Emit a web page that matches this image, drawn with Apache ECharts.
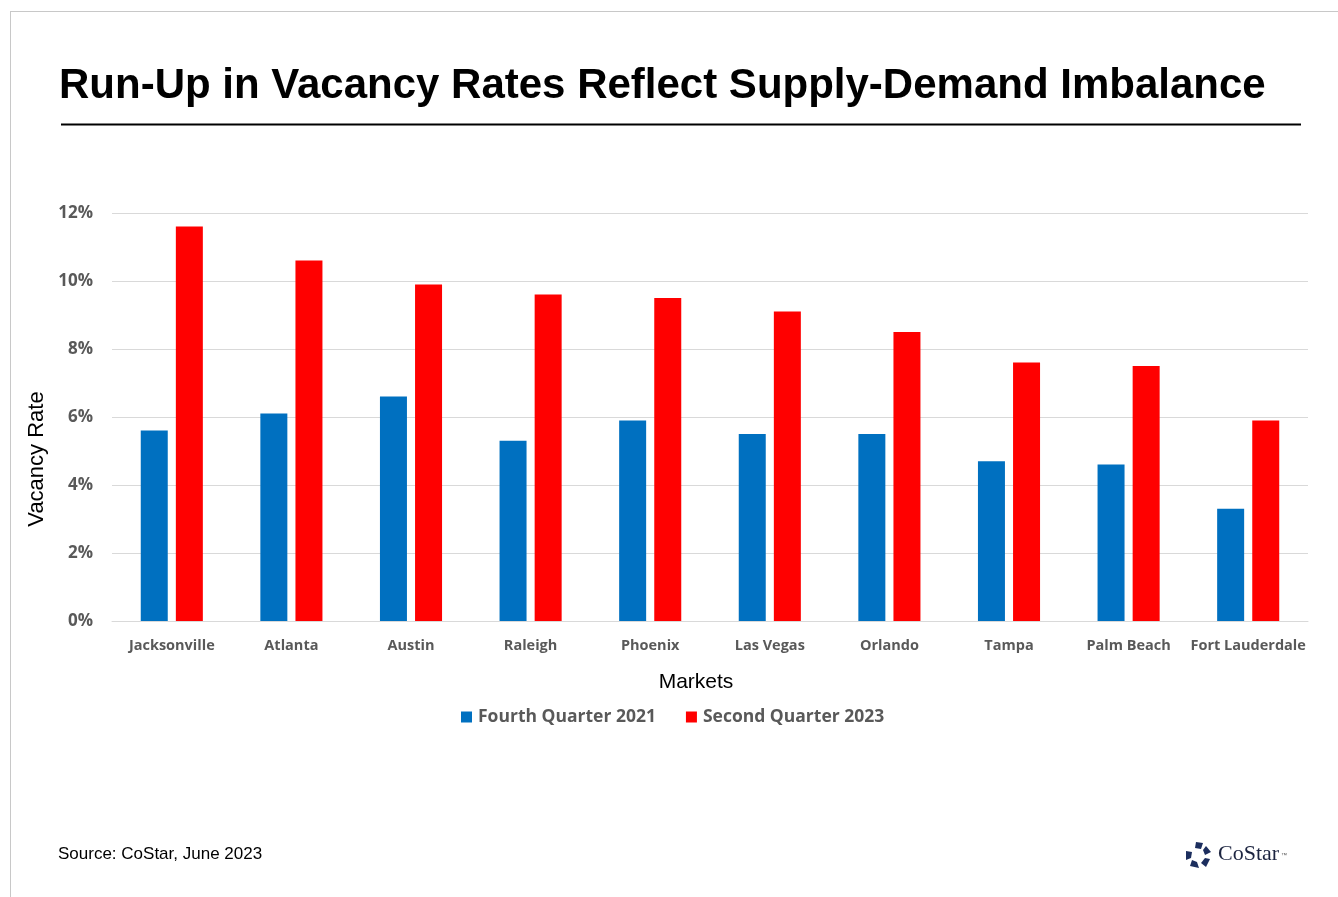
<!DOCTYPE html>
<html><head><meta charset="utf-8">
<script src="https://cdn.jsdelivr.net/npm/echarts@6/dist/echarts.min.js"></script>
<style>html,body{margin:0;padding:0;background:#fff}#c{width:1338px;height:897px}</style>
</head><body><div id="c"></div>
<script>
const markets = ['Jacksonville','Atlanta','Austin','Raleigh','Phoenix','Las Vegas','Orlando','Tampa','Palm Beach','Fort Lauderdale'];
const q4_2021 = [5.6, 6.1, 6.6, 5.3, 5.9, 5.5, 5.5, 4.7, 4.6, 3.3];
const q2_2023 = [11.6, 10.6, 9.9, 9.6, 9.5, 9.1, 8.5, 7.6, 7.5, 5.9];
const seriesNames = ['Fourth Quarter 2021', 'Second Quarter 2023'];
const yTicks = [0, 2, 4, 6, 8, 10, 12];

const chart = echarts.init(document.getElementById('c'), null, {renderer:'canvas'});
const labelFont = '"Open Sans", sans-serif';
const arial = '"Liberation Sans", Arial, sans-serif';
chart.setOption({
  animation: false,
  title: {
    text: 'Run-Up in Vacancy Rates Reflect Supply-Demand Imbalance',
    left: 54, top: 60,
    textStyle: {fontFamily: arial, fontWeight: 'bold', fontSize: 42, color: '#000'}
  },
  grid: {left: 112, right: 30, top: 213, bottom: 276, containLabel: false},
  legend: {
    data: seriesNames, top: 703, left: 456, itemWidth: 11, itemHeight: 11, itemGap: 30,
    icon: 'rect',
    textStyle: {fontFamily: labelFont, fontWeight: 'bold', fontSize: 17.5, color: '#595959', padding: [0,0,0,1]}
  },
  xAxis: {
    type: 'category', data: markets,
    axisLine: {lineStyle: {color: '#d9d9d9'}}, axisTick: {show: false},
    axisLabel: {interval: 0, margin: 17, fontFamily: labelFont, fontWeight: 'bold', fontSize: 14.5, color: '#595959'}
  },
  yAxis: {
    type: 'value', min: 0, max: 12, interval: 2,
    axisLabel: {margin: 19, fontFamily: labelFont, fontWeight: 'bold', fontSize: 17, color: '#595959',
      padding: [3, 0, 0, 0],
      formatter: v => yTicks.includes(v) ? v + '%' : ''},
    splitLine: {lineStyle: {color: '#d9d9d9'}}
  },
  series: [
    {name: seriesNames[0], type: 'bar', data: q4_2021, barWidth: 27, barGap: '30%', itemStyle: {color: '#0070C0'}},
    {name: seriesNames[1], type: 'bar', data: q2_2023, barWidth: 27, itemStyle: {color: '#FF0000'}}
  ],
  graphic: [
    {type: 'line', shape: {x1: 10, y1: 11.5, x2: 1338, y2: 11.5}, style: {stroke: '#c8c8c8', lineWidth: 1}},
    {type: 'line', shape: {x1: 10.5, y1: 11, x2: 10.5, y2: 897}, style: {stroke: '#c8c8c8', lineWidth: 1}},
    {type: 'line', shape: {x1: 61, y1: 124.5, x2: 1301, y2: 124.5}, style: {stroke: '#000', lineWidth: 2}},
    {type: 'text', x: 37, y: 459, rotation: Math.PI / 2, style: {text: 'Vacancy Rate', font: '22px ' + arial, fill: '#000', align: 'center', verticalAlign: 'middle'}},
    {type: 'text', x: 696, y: 682, style: {text: 'Markets', font: '21px ' + arial, fill: '#000', align: 'center', verticalAlign: 'middle'}},
    {type: 'text', left: 58, top: 846, style: {text: 'Source: CoStar, June 2023', font: '17px ' + arial, fill: '#000'}},
    {type: 'group', x: 1198, y: 855, children: [
      {type: 'polygon', shape: {points: [[-2,-13],[5,-12],[3,-6],[-3,-7]]}, style: {fill: '#1c2e5e'}},
      {type: 'polygon', shape: {points: [[8,-9],[13,-3],[7,0],[5,-5]]}, style: {fill: '#1c2e5e'}},
      {type: 'polygon', shape: {points: [[12,4],[8,12],[3,8],[7,3]]}, style: {fill: '#1c2e5e'}},
      {type: 'polygon', shape: {points: [[1,13],[-8,11],[-6,5],[-1,7]]}, style: {fill: '#1c2e5e'}},
      {type: 'polygon', shape: {points: [[-12,5],[-12,-4],[-6,-3],[-7,3]]}, style: {fill: '#1c2e5e'}}
    ]},
    {type: 'text', left: 1218, top: 843, style: {text: 'CoStar', font: '22px "Liberation Serif", "DejaVu Serif", serif', fill: '#1c2440'}},
    {type: 'text', left: 1281, top: 852, style: {text: '™', font: '6px ' + arial, fill: '#555'}}
  ]
});
</script></body></html>
